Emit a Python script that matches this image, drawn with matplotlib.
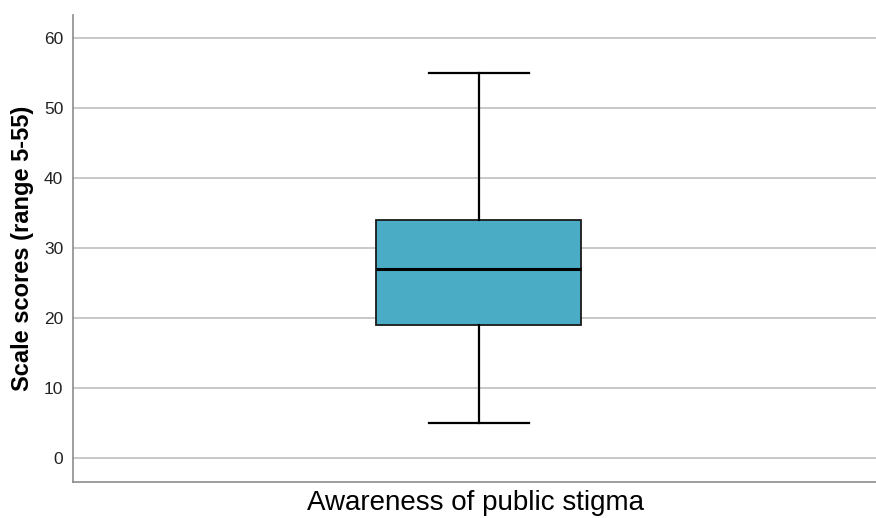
import matplotlib
matplotlib.use("Agg")
import matplotlib.pyplot as plt

# summary statistics for the scale
category = "Awareness of public stigma"
whisker_low = 5
q1 = 19
median = 27
q3 = 34
whisker_high = 55
y_ticks = [0, 10, 20, 30, 40, 50, 60]

plt.rcParams['font.family'] = ['Liberation Sans', 'DejaVu Sans']

fig = plt.figure(figsize=(8.76, 5.18), dpi=100)
ax = fig.add_axes([73 / 876, 36 / 518, 1 - 73 / 876 + 0.002, 467 / 518])

stats = [{
    'med': median, 'q1': q1, 'q3': q3,
    'whislo': whisker_low, 'whishi': whisker_high,
    'fliers': [], 'label': category,
}]
ax.bxp(stats, positions=[1], widths=0.5, capwidths=0.245, patch_artist=True,
       showfliers=False,
       boxprops=dict(facecolor='#4aadc5', edgecolor='#1a1a1a', linewidth=1.3),
       medianprops=dict(color='black', linewidth=2.2),
       whiskerprops=dict(color='black', linewidth=1.6),
       capprops=dict(color='black', linewidth=1.6), zorder=3)

ax.set_xlim(0.008, 1.976)
ax.set_ylim(-3.43, 63.3)
ax.set_yticks(y_ticks)
ax.yaxis.grid(True, color='#c8c8c8', linewidth=1.4, zorder=0)
ax.set_axisbelow(True)
ax.set_xticks([])
ax.tick_params(axis='y', length=0, pad=7, labelsize=12.5, labelcolor='#222222')

for side in ['top', 'right']:
    ax.spines[side].set_visible(False)
for side in ['left', 'bottom']:
    ax.spines[side].set_color('#8c8c8c')
    ax.spines[side].set_linewidth(1.2)

ax.set_ylabel('Scale scores (range 5-55)', fontsize=17, fontweight='bold', labelpad=7)
ax.set_xlabel(category, fontsize=20, labelpad=6)

fig.savefig('out.png', dpi=100)
